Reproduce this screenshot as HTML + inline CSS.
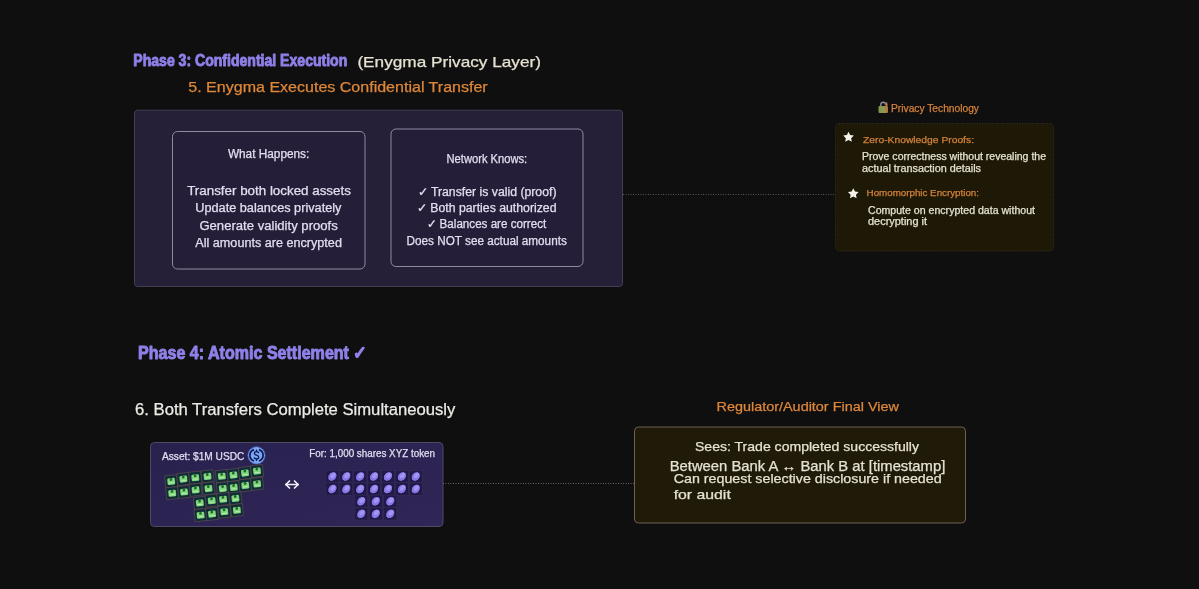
<!DOCTYPE html>
<html><head><meta charset="utf-8"><style>
html,body{margin:0;padding:0;background:#0f0f0f;width:1199px;height:589px;overflow:hidden;}
svg{display:block;will-change:transform;}
text{font-family:"Liberation Sans",sans-serif;}
</style></head><body>
<svg width="1199" height="589" viewBox="0 0 1199 589"><text x="133.3" y="66.0" font-size="16" fill="#8e80e8" font-weight="bold" font-family="Liberation Sans" textLength="214.0" lengthAdjust="spacingAndGlyphs" stroke="#8e80e8" stroke-width="0.9" stroke-linejoin="round">Phase 3: Confidential Execution</text>
<text x="357.4" y="67.0" font-size="15" fill="#e6e2d2" font-weight="normal" font-family="Liberation Sans" textLength="183.6" lengthAdjust="spacingAndGlyphs" stroke="#e6e2d2" stroke-width="0.25" stroke-linejoin="round">(Enygma Privacy Layer)</text>
<text x="188.3" y="92.0" font-size="14" fill="#dd873a" font-weight="normal" font-family="Liberation Sans" textLength="299.4" lengthAdjust="spacingAndGlyphs" stroke="#dd873a" stroke-width="0.25" stroke-linejoin="round">5. Enygma Executes Confidential Transfer</text>
<rect x="134.5" y="110.2" width="488" height="176.3" rx="3" fill="#261f38" stroke="#433f52" stroke-width="1" />
<rect x="172.5" y="131.5" width="192.5" height="137.5" rx="5" fill="#251e38" stroke="#8e8aa4" stroke-width="1" />
<rect x="391" y="129" width="192" height="137.5" rx="5" fill="#251e38" stroke="#8e8aa4" stroke-width="1" />
<text x="227.9" y="157.9" font-size="12" fill="#e2def0" font-weight="normal" font-family="Liberation Sans" textLength="81.4" lengthAdjust="spacingAndGlyphs" stroke="#e2def0" stroke-width="0.25" stroke-linejoin="round">What Happens:</text>
<text x="187.2" y="194.7" font-size="12" fill="#e2def0" font-weight="normal" font-family="Liberation Sans" textLength="163.7" lengthAdjust="spacingAndGlyphs" stroke="#e2def0" stroke-width="0.25" stroke-linejoin="round">Transfer both locked assets</text>
<text x="195.3" y="212.3" font-size="12" fill="#e2def0" font-weight="normal" font-family="Liberation Sans" textLength="146.1" lengthAdjust="spacingAndGlyphs" stroke="#e2def0" stroke-width="0.25" stroke-linejoin="round">Update balances privately</text>
<text x="199.4" y="230.0" font-size="12" fill="#e2def0" font-weight="normal" font-family="Liberation Sans" textLength="138.4" lengthAdjust="spacingAndGlyphs" stroke="#e2def0" stroke-width="0.25" stroke-linejoin="round">Generate validity proofs</text>
<text x="195.3" y="246.9" font-size="12" fill="#e2def0" font-weight="normal" font-family="Liberation Sans" textLength="146.6" lengthAdjust="spacingAndGlyphs" stroke="#e2def0" stroke-width="0.25" stroke-linejoin="round">All amounts are encrypted</text>
<text x="446.5" y="163.4" font-size="12" fill="#e2def0" font-weight="normal" font-family="Liberation Sans" textLength="80.7" lengthAdjust="spacingAndGlyphs" stroke="#e2def0" stroke-width="0.25" stroke-linejoin="round">Network Knows:</text>
<text x="417.5" y="196.0" font-size="12" fill="#e2def0" font-weight="normal" font-family="Liberation Sans" textLength="139.0" lengthAdjust="spacingAndGlyphs" stroke="#e2def0" stroke-width="0.25" stroke-linejoin="round">✓ Transfer is valid (proof)</text>
<text x="416.7" y="211.8" font-size="12" fill="#e2def0" font-weight="normal" font-family="Liberation Sans" textLength="139.8" lengthAdjust="spacingAndGlyphs" stroke="#e2def0" stroke-width="0.25" stroke-linejoin="round">✓ Both parties authorized</text>
<text x="426.7" y="228.0" font-size="12" fill="#e2def0" font-weight="normal" font-family="Liberation Sans" textLength="119.5" lengthAdjust="spacingAndGlyphs" stroke="#e2def0" stroke-width="0.25" stroke-linejoin="round">✓ Balances are correct</text>
<text x="406.6" y="244.9" font-size="12" fill="#e2def0" font-weight="normal" font-family="Liberation Sans" textLength="160.2" lengthAdjust="spacingAndGlyphs" stroke="#e2def0" stroke-width="0.25" stroke-linejoin="round">Does NOT see actual amounts</text>
<line x1="623" y1="194.5" x2="835" y2="194.5" stroke="#5a5856" stroke-width="1" stroke-dasharray="1 1.5"/>
<rect x="835.5" y="123.5" width="218" height="127.5" rx="4" fill="#1e1906" stroke="#3e3420" stroke-width="1" stroke-dasharray="1 1.5"/>
<defs><linearGradient id="lk" x1="0" y1="0" x2="1" y2="0"><stop offset="0" stop-color="#7e9a48"/><stop offset="0.55" stop-color="#8a9a50"/><stop offset="0.6" stop-color="#b08a50"/><stop offset="1" stop-color="#a07840"/></linearGradient></defs><g><path d="M880.8 106.5 v-1.8 a2.4 2.4 0 0 1 4.8 0" fill="none" stroke="#8c88a4" stroke-width="1.4"/><rect x="878.5" y="106" width="9.5" height="7" rx="1" fill="url(#lk)"/><path d="M884.5 103.5 l2.5 -1.5 l0.8 3 l-1.5 2" fill="#a88048"/></g>
<text x="891.0" y="112.0" font-size="10" fill="#d4803a" font-weight="normal" font-family="Liberation Sans" textLength="88.0" lengthAdjust="spacingAndGlyphs" stroke="#d4803a" stroke-width="0.25" stroke-linejoin="round">Privacy Technology</text>
<polygon points="848.50,131.70 850.15,135.03 853.83,135.57 851.16,138.17 851.79,141.83 848.50,140.10 845.21,141.83 845.84,138.17 843.17,135.57 846.85,135.03" fill="#f4f2ea"/>
<text x="863.0" y="143.0" font-size="9.5" fill="#d4803a" font-weight="normal" font-family="Liberation Sans" textLength="111.0" lengthAdjust="spacingAndGlyphs" stroke="#d4803a" stroke-width="0.25" stroke-linejoin="round">Zero-Knowledge Proofs:</text>
<text x="862.0" y="160.0" font-size="10" fill="#e6e2d2" font-weight="normal" font-family="Liberation Sans" textLength="184.0" lengthAdjust="spacingAndGlyphs" stroke="#e6e2d2" stroke-width="0.25" stroke-linejoin="round">Prove correctness without revealing the</text>
<text x="862.0" y="172.0" font-size="10" fill="#e6e2d2" font-weight="normal" font-family="Liberation Sans" textLength="119.0" lengthAdjust="spacingAndGlyphs" stroke="#e6e2d2" stroke-width="0.25" stroke-linejoin="round">actual transaction details</text>
<polygon points="853.30,188.20 854.95,191.53 858.63,192.07 855.96,194.67 856.59,198.33 853.30,196.60 850.01,198.33 850.64,194.67 847.97,192.07 851.65,191.53" fill="#f4f2ea"/>
<text x="866.6" y="196.0" font-size="9.5" fill="#d4803a" font-weight="normal" font-family="Liberation Sans" textLength="112.4" lengthAdjust="spacingAndGlyphs" stroke="#d4803a" stroke-width="0.25" stroke-linejoin="round">Homomorphic Encryption:</text>
<text x="868.0" y="214.0" font-size="10" fill="#e6e2d2" font-weight="normal" font-family="Liberation Sans" textLength="167.0" lengthAdjust="spacingAndGlyphs" stroke="#e6e2d2" stroke-width="0.25" stroke-linejoin="round">Compute on encrypted data without</text>
<text x="868.0" y="225.0" font-size="10" fill="#e6e2d2" font-weight="normal" font-family="Liberation Sans" textLength="59.0" lengthAdjust="spacingAndGlyphs" stroke="#e6e2d2" stroke-width="0.25" stroke-linejoin="round">decrypting it</text>
<text x="138.1" y="359.2" font-size="17.5" fill="#8e80e8" font-weight="bold" font-family="Liberation Sans" textLength="229.1" lengthAdjust="spacingAndGlyphs" stroke="#8e80e8" stroke-width="0.9" stroke-linejoin="round">Phase 4: Atomic Settlement ✓</text>
<text x="135.0" y="415.3" font-size="16" fill="#ecebe6" font-weight="normal" font-family="Liberation Sans" textLength="320.4" lengthAdjust="spacingAndGlyphs" stroke="#ecebe6" stroke-width="0.25" stroke-linejoin="round">6. Both Transfers Complete Simultaneously</text>
<defs><linearGradient id="ag" x1="0" y1="0" x2="1" y2="1"><stop offset="0" stop-color="#28214e"/><stop offset="1" stop-color="#302657"/></linearGradient></defs>
<rect x="150.5" y="442.5" width="292.5" height="84" rx="4" fill="url(#ag)" stroke="#4e4966" stroke-width="1" />
<text x="162.0" y="459.6" font-size="10.5" fill="#e2def0" font-weight="normal" font-family="Liberation Sans" textLength="82.4" lengthAdjust="spacingAndGlyphs" stroke="#e2def0" stroke-width="0.25" stroke-linejoin="round">Asset: $1M USDC</text>
<circle cx="256.5" cy="455.3" r="8.6" fill="#7ea4f4" stroke="#4a70d0" stroke-width="0.6"/><path d="M254.0 449.6 A6.0 6.0 0 0 0 254.0 461.0" fill="none" stroke="#0c1c50" stroke-width="1.7"/><path d="M259.0 449.6 A6.0 6.0 0 0 1 259.0 461.0" fill="none" stroke="#0c1c50" stroke-width="1.7"/><path d="M258.6 452.6 Q258 451.6 256.5 451.6 Q254.4 451.6 254.4 453.3 Q254.4 454.8 256.5 455.2 Q258.7 455.7 258.7 457.3 Q258.7 459.0 256.5 459.0 Q254.9 459.0 254.3 457.9 M256.5 450.2 V451.6 M256.5 459.0 V460.4" fill="none" stroke="#0c1c50" stroke-width="1.3" stroke-linecap="round"/>
<g transform="rotate(-6 171.2 481.3)"><rect x="165.2" y="475.3" width="12" height="12" fill="#0f2c38" stroke="#5e4a48" stroke-width="0.7"/><rect x="167.4" y="478.1" width="7.6" height="6.6" rx="1.2" fill="#7fd67c"/><circle cx="171.2" cy="479.5" r="1.4" fill="#1f6a2a"/><rect x="168.6" y="482.5" width="5.2" height="0.8" fill="#c4f0b8"/></g>
<g transform="rotate(-6 183.4 479.0)"><rect x="177.4" y="473.0" width="12" height="12" fill="#0f2c38" stroke="#5e4a48" stroke-width="0.7"/><rect x="179.6" y="475.8" width="7.6" height="6.6" rx="1.2" fill="#7fd67c"/><circle cx="183.4" cy="477.2" r="1.4" fill="#1f6a2a"/><rect x="180.8" y="480.2" width="5.2" height="0.8" fill="#c4f0b8"/></g>
<g transform="rotate(-6 195.3 477.6)"><rect x="189.3" y="471.6" width="12" height="12" fill="#0f2c38" stroke="#5e4a48" stroke-width="0.7"/><rect x="191.5" y="474.4" width="7.6" height="6.6" rx="1.2" fill="#7fd67c"/><circle cx="195.3" cy="475.8" r="1.4" fill="#1f6a2a"/><rect x="192.7" y="478.8" width="5.2" height="0.8" fill="#c4f0b8"/></g>
<g transform="rotate(-6 207.5 476.3)"><rect x="201.5" y="470.3" width="12" height="12" fill="#0f2c38" stroke="#5e4a48" stroke-width="0.7"/><rect x="203.7" y="473.1" width="7.6" height="6.6" rx="1.2" fill="#7fd67c"/><circle cx="207.5" cy="474.5" r="1.4" fill="#1f6a2a"/><rect x="204.9" y="477.5" width="5.2" height="0.8" fill="#c4f0b8"/></g>
<g transform="rotate(-6 221.8 476.1)"><rect x="215.8" y="470.1" width="12" height="12" fill="#0f2c38" stroke="#5e4a48" stroke-width="0.7"/><rect x="218.0" y="472.9" width="7.6" height="6.6" rx="1.2" fill="#7fd67c"/><circle cx="221.8" cy="474.3" r="1.4" fill="#1f6a2a"/><rect x="219.2" y="477.3" width="5.2" height="0.8" fill="#c4f0b8"/></g>
<g transform="rotate(-6 233.5 475.0)"><rect x="227.5" y="469.0" width="12" height="12" fill="#0f2c38" stroke="#5e4a48" stroke-width="0.7"/><rect x="229.7" y="471.8" width="7.6" height="6.6" rx="1.2" fill="#7fd67c"/><circle cx="233.5" cy="473.2" r="1.4" fill="#1f6a2a"/><rect x="230.9" y="476.2" width="5.2" height="0.8" fill="#c4f0b8"/></g>
<g transform="rotate(-6 245.0 473.0)"><rect x="239.0" y="467.0" width="12" height="12" fill="#0f2c38" stroke="#5e4a48" stroke-width="0.7"/><rect x="241.2" y="469.8" width="7.6" height="6.6" rx="1.2" fill="#7fd67c"/><circle cx="245.0" cy="471.2" r="1.4" fill="#1f6a2a"/><rect x="242.4" y="474.2" width="5.2" height="0.8" fill="#c4f0b8"/></g>
<g transform="rotate(-6 257.0 471.0)"><rect x="251.0" y="465.0" width="12" height="12" fill="#0f2c38" stroke="#5e4a48" stroke-width="0.7"/><rect x="253.2" y="467.8" width="7.6" height="6.6" rx="1.2" fill="#7fd67c"/><circle cx="257.0" cy="469.2" r="1.4" fill="#1f6a2a"/><rect x="254.4" y="472.2" width="5.2" height="0.8" fill="#c4f0b8"/></g>
<g transform="rotate(-6 172.2 493.2)"><rect x="166.2" y="487.2" width="12" height="12" fill="#0f2c38" stroke="#5e4a48" stroke-width="0.7"/><rect x="168.4" y="490.0" width="7.6" height="6.6" rx="1.2" fill="#7fd67c"/><circle cx="172.2" cy="491.4" r="1.4" fill="#1f6a2a"/><rect x="169.6" y="494.4" width="5.2" height="0.8" fill="#c4f0b8"/></g>
<g transform="rotate(-6 184.1 491.9)"><rect x="178.1" y="485.9" width="12" height="12" fill="#0f2c38" stroke="#5e4a48" stroke-width="0.7"/><rect x="180.3" y="488.7" width="7.6" height="6.6" rx="1.2" fill="#7fd67c"/><circle cx="184.1" cy="490.1" r="1.4" fill="#1f6a2a"/><rect x="181.5" y="493.1" width="5.2" height="0.8" fill="#c4f0b8"/></g>
<g transform="rotate(-6 195.6 489.8)"><rect x="189.6" y="483.8" width="12" height="12" fill="#0f2c38" stroke="#5e4a48" stroke-width="0.7"/><rect x="191.8" y="486.6" width="7.6" height="6.6" rx="1.2" fill="#7fd67c"/><circle cx="195.6" cy="488.0" r="1.4" fill="#1f6a2a"/><rect x="193.0" y="491.0" width="5.2" height="0.8" fill="#c4f0b8"/></g>
<g transform="rotate(-6 208.5 488.5)"><rect x="202.5" y="482.5" width="12" height="12" fill="#0f2c38" stroke="#5e4a48" stroke-width="0.7"/><rect x="204.7" y="485.3" width="7.6" height="6.6" rx="1.2" fill="#7fd67c"/><circle cx="208.5" cy="486.7" r="1.4" fill="#1f6a2a"/><rect x="205.9" y="489.7" width="5.2" height="0.8" fill="#c4f0b8"/></g>
<g transform="rotate(-6 222.8 488.5)"><rect x="216.8" y="482.5" width="12" height="12" fill="#0f2c38" stroke="#5e4a48" stroke-width="0.7"/><rect x="219.0" y="485.3" width="7.6" height="6.6" rx="1.2" fill="#7fd67c"/><circle cx="222.8" cy="486.7" r="1.4" fill="#1f6a2a"/><rect x="220.2" y="489.7" width="5.2" height="0.8" fill="#c4f0b8"/></g>
<g transform="rotate(-6 233.8 487.3)"><rect x="227.8" y="481.3" width="12" height="12" fill="#0f2c38" stroke="#5e4a48" stroke-width="0.7"/><rect x="230.0" y="484.1" width="7.6" height="6.6" rx="1.2" fill="#7fd67c"/><circle cx="233.8" cy="485.5" r="1.4" fill="#1f6a2a"/><rect x="231.2" y="488.5" width="5.2" height="0.8" fill="#c4f0b8"/></g>
<g transform="rotate(-6 245.3 485.3)"><rect x="239.3" y="479.3" width="12" height="12" fill="#0f2c38" stroke="#5e4a48" stroke-width="0.7"/><rect x="241.5" y="482.1" width="7.6" height="6.6" rx="1.2" fill="#7fd67c"/><circle cx="245.3" cy="483.5" r="1.4" fill="#1f6a2a"/><rect x="242.7" y="486.5" width="5.2" height="0.8" fill="#c4f0b8"/></g>
<g transform="rotate(-6 257.1 483.8)"><rect x="251.1" y="477.8" width="12" height="12" fill="#0f2c38" stroke="#5e4a48" stroke-width="0.7"/><rect x="253.3" y="480.6" width="7.6" height="6.6" rx="1.2" fill="#7fd67c"/><circle cx="257.1" cy="482.0" r="1.4" fill="#1f6a2a"/><rect x="254.5" y="485.0" width="5.2" height="0.8" fill="#c4f0b8"/></g>
<g transform="rotate(-6 199.8 502.9)"><rect x="193.8" y="496.9" width="12" height="12" fill="#0f2c38" stroke="#5e4a48" stroke-width="0.7"/><rect x="196.0" y="499.7" width="7.6" height="6.6" rx="1.2" fill="#7fd67c"/><circle cx="199.8" cy="501.1" r="1.4" fill="#1f6a2a"/><rect x="197.2" y="504.1" width="5.2" height="0.8" fill="#c4f0b8"/></g>
<g transform="rotate(-6 211.7 500.6)"><rect x="205.7" y="494.6" width="12" height="12" fill="#0f2c38" stroke="#5e4a48" stroke-width="0.7"/><rect x="207.9" y="497.4" width="7.6" height="6.6" rx="1.2" fill="#7fd67c"/><circle cx="211.7" cy="498.8" r="1.4" fill="#1f6a2a"/><rect x="209.1" y="501.8" width="5.2" height="0.8" fill="#c4f0b8"/></g>
<g transform="rotate(-6 223.1 499.1)"><rect x="217.1" y="493.1" width="12" height="12" fill="#0f2c38" stroke="#5e4a48" stroke-width="0.7"/><rect x="219.3" y="495.9" width="7.6" height="6.6" rx="1.2" fill="#7fd67c"/><circle cx="223.1" cy="497.3" r="1.4" fill="#1f6a2a"/><rect x="220.5" y="500.3" width="5.2" height="0.8" fill="#c4f0b8"/></g>
<g transform="rotate(-6 235.4 498.3)"><rect x="229.4" y="492.3" width="12" height="12" fill="#0f2c38" stroke="#5e4a48" stroke-width="0.7"/><rect x="231.6" y="495.1" width="7.6" height="6.6" rx="1.2" fill="#7fd67c"/><circle cx="235.4" cy="496.5" r="1.4" fill="#1f6a2a"/><rect x="232.8" y="499.5" width="5.2" height="0.8" fill="#c4f0b8"/></g>
<g transform="rotate(-6 200.6 515.1)"><rect x="194.6" y="509.1" width="12" height="12" fill="#0f2c38" stroke="#5e4a48" stroke-width="0.7"/><rect x="196.8" y="511.9" width="7.6" height="6.6" rx="1.2" fill="#7fd67c"/><circle cx="200.6" cy="513.3" r="1.4" fill="#1f6a2a"/><rect x="198.0" y="516.3" width="5.2" height="0.8" fill="#c4f0b8"/></g>
<g transform="rotate(-6 212.0 514.0)"><rect x="206.0" y="508.0" width="12" height="12" fill="#0f2c38" stroke="#5e4a48" stroke-width="0.7"/><rect x="208.2" y="510.8" width="7.6" height="6.6" rx="1.2" fill="#7fd67c"/><circle cx="212.0" cy="512.2" r="1.4" fill="#1f6a2a"/><rect x="209.4" y="515.2" width="5.2" height="0.8" fill="#c4f0b8"/></g>
<g transform="rotate(-6 224.3 511.7)"><rect x="218.3" y="505.7" width="12" height="12" fill="#0f2c38" stroke="#5e4a48" stroke-width="0.7"/><rect x="220.5" y="508.5" width="7.6" height="6.6" rx="1.2" fill="#7fd67c"/><circle cx="224.3" cy="509.9" r="1.4" fill="#1f6a2a"/><rect x="221.7" y="512.9" width="5.2" height="0.8" fill="#c4f0b8"/></g>
<g transform="rotate(-6 236.9 510.2)"><rect x="230.9" y="504.2" width="12" height="12" fill="#0f2c38" stroke="#5e4a48" stroke-width="0.7"/><rect x="233.1" y="507.0" width="7.6" height="6.6" rx="1.2" fill="#7fd67c"/><circle cx="236.9" cy="508.4" r="1.4" fill="#1f6a2a"/><rect x="234.3" y="511.4" width="5.2" height="0.8" fill="#c4f0b8"/></g>
<g fill="none" stroke="#f4f2fa" stroke-width="1.7" stroke-linecap="round" stroke-linejoin="round"><path d="M286 484.5 H298"/><path d="M289.5 481 L285.8 484.5 L289.5 488"/><path d="M294.5 481 L298.2 484.5 L294.5 488"/></g>
<text x="309.3" y="457.0" font-size="10.5" fill="#e2def0" font-weight="normal" font-family="Liberation Sans" textLength="125.7" lengthAdjust="spacingAndGlyphs" stroke="#e2def0" stroke-width="0.25" stroke-linejoin="round">For: 1,000 shares XYZ token</text>
<rect x="325.9" y="470.3" width="13" height="12.4" fill="#231a47" stroke="#362d5c" stroke-width="0.6"/><ellipse cx="332.4" cy="476.5" rx="5.3" ry="4.2" transform="rotate(-50 332.4 476.5)" fill="#8577e6" stroke="#140e36" stroke-width="0.9"/><ellipse cx="333.0" cy="475.6" rx="3" ry="2" transform="rotate(-50 333.0 475.6)" fill="#a294f2"/>
<rect x="339.8" y="470.3" width="13" height="12.4" fill="#231a47" stroke="#362d5c" stroke-width="0.6"/><ellipse cx="346.3" cy="476.5" rx="5.3" ry="4.2" transform="rotate(-50 346.3 476.5)" fill="#8577e6" stroke="#140e36" stroke-width="0.9"/><ellipse cx="346.9" cy="475.6" rx="3" ry="2" transform="rotate(-50 346.9 475.6)" fill="#a294f2"/>
<rect x="353.7" y="470.3" width="13" height="12.4" fill="#231a47" stroke="#362d5c" stroke-width="0.6"/><ellipse cx="360.2" cy="476.5" rx="5.3" ry="4.2" transform="rotate(-50 360.2 476.5)" fill="#8577e6" stroke="#140e36" stroke-width="0.9"/><ellipse cx="360.8" cy="475.6" rx="3" ry="2" transform="rotate(-50 360.8 475.6)" fill="#a294f2"/>
<rect x="367.6" y="470.3" width="13" height="12.4" fill="#231a47" stroke="#362d5c" stroke-width="0.6"/><ellipse cx="374.1" cy="476.5" rx="5.3" ry="4.2" transform="rotate(-50 374.1 476.5)" fill="#8577e6" stroke="#140e36" stroke-width="0.9"/><ellipse cx="374.7" cy="475.6" rx="3" ry="2" transform="rotate(-50 374.7 475.6)" fill="#a294f2"/>
<rect x="381.5" y="470.3" width="13" height="12.4" fill="#231a47" stroke="#362d5c" stroke-width="0.6"/><ellipse cx="388.0" cy="476.5" rx="5.3" ry="4.2" transform="rotate(-50 388.0 476.5)" fill="#8577e6" stroke="#140e36" stroke-width="0.9"/><ellipse cx="388.6" cy="475.6" rx="3" ry="2" transform="rotate(-50 388.6 475.6)" fill="#a294f2"/>
<rect x="395.4" y="470.3" width="13" height="12.4" fill="#231a47" stroke="#362d5c" stroke-width="0.6"/><ellipse cx="401.9" cy="476.5" rx="5.3" ry="4.2" transform="rotate(-50 401.9 476.5)" fill="#8577e6" stroke="#140e36" stroke-width="0.9"/><ellipse cx="402.5" cy="475.6" rx="3" ry="2" transform="rotate(-50 402.5 475.6)" fill="#a294f2"/>
<rect x="409.3" y="470.3" width="13" height="12.4" fill="#231a47" stroke="#362d5c" stroke-width="0.6"/><ellipse cx="415.8" cy="476.5" rx="5.3" ry="4.2" transform="rotate(-50 415.8 476.5)" fill="#8577e6" stroke="#140e36" stroke-width="0.9"/><ellipse cx="416.4" cy="475.6" rx="3" ry="2" transform="rotate(-50 416.4 475.6)" fill="#a294f2"/>
<rect x="325.9" y="482.8" width="13" height="12.4" fill="#231a47" stroke="#362d5c" stroke-width="0.6"/><ellipse cx="332.4" cy="489.0" rx="5.3" ry="4.2" transform="rotate(-50 332.4 489.0)" fill="#8577e6" stroke="#140e36" stroke-width="0.9"/><ellipse cx="333.0" cy="488.1" rx="3" ry="2" transform="rotate(-50 333.0 488.1)" fill="#a294f2"/>
<rect x="339.8" y="482.8" width="13" height="12.4" fill="#231a47" stroke="#362d5c" stroke-width="0.6"/><ellipse cx="346.3" cy="489.0" rx="5.3" ry="4.2" transform="rotate(-50 346.3 489.0)" fill="#8577e6" stroke="#140e36" stroke-width="0.9"/><ellipse cx="346.9" cy="488.1" rx="3" ry="2" transform="rotate(-50 346.9 488.1)" fill="#a294f2"/>
<rect x="353.7" y="482.8" width="13" height="12.4" fill="#231a47" stroke="#362d5c" stroke-width="0.6"/><ellipse cx="360.2" cy="489.0" rx="5.3" ry="4.2" transform="rotate(-50 360.2 489.0)" fill="#8577e6" stroke="#140e36" stroke-width="0.9"/><ellipse cx="360.8" cy="488.1" rx="3" ry="2" transform="rotate(-50 360.8 488.1)" fill="#a294f2"/>
<rect x="367.6" y="482.8" width="13" height="12.4" fill="#231a47" stroke="#362d5c" stroke-width="0.6"/><ellipse cx="374.1" cy="489.0" rx="5.3" ry="4.2" transform="rotate(-50 374.1 489.0)" fill="#8577e6" stroke="#140e36" stroke-width="0.9"/><ellipse cx="374.7" cy="488.1" rx="3" ry="2" transform="rotate(-50 374.7 488.1)" fill="#a294f2"/>
<rect x="381.5" y="482.8" width="13" height="12.4" fill="#231a47" stroke="#362d5c" stroke-width="0.6"/><ellipse cx="388.0" cy="489.0" rx="5.3" ry="4.2" transform="rotate(-50 388.0 489.0)" fill="#8577e6" stroke="#140e36" stroke-width="0.9"/><ellipse cx="388.6" cy="488.1" rx="3" ry="2" transform="rotate(-50 388.6 488.1)" fill="#a294f2"/>
<rect x="395.4" y="482.8" width="13" height="12.4" fill="#231a47" stroke="#362d5c" stroke-width="0.6"/><ellipse cx="401.9" cy="489.0" rx="5.3" ry="4.2" transform="rotate(-50 401.9 489.0)" fill="#8577e6" stroke="#140e36" stroke-width="0.9"/><ellipse cx="402.5" cy="488.1" rx="3" ry="2" transform="rotate(-50 402.5 488.1)" fill="#a294f2"/>
<rect x="409.3" y="482.8" width="13" height="12.4" fill="#231a47" stroke="#362d5c" stroke-width="0.6"/><ellipse cx="415.8" cy="489.0" rx="5.3" ry="4.2" transform="rotate(-50 415.8 489.0)" fill="#8577e6" stroke="#140e36" stroke-width="0.9"/><ellipse cx="416.4" cy="488.1" rx="3" ry="2" transform="rotate(-50 416.4 488.1)" fill="#a294f2"/>
<rect x="354.8" y="495.1" width="13" height="12.4" fill="#231a47" stroke="#362d5c" stroke-width="0.6"/><ellipse cx="361.3" cy="501.3" rx="5.3" ry="4.2" transform="rotate(-50 361.3 501.3)" fill="#8577e6" stroke="#140e36" stroke-width="0.9"/><ellipse cx="361.9" cy="500.4" rx="3" ry="2" transform="rotate(-50 361.9 500.4)" fill="#a294f2"/>
<rect x="369.3" y="495.1" width="13" height="12.4" fill="#231a47" stroke="#362d5c" stroke-width="0.6"/><ellipse cx="375.8" cy="501.3" rx="5.3" ry="4.2" transform="rotate(-50 375.8 501.3)" fill="#8577e6" stroke="#140e36" stroke-width="0.9"/><ellipse cx="376.4" cy="500.4" rx="3" ry="2" transform="rotate(-50 376.4 500.4)" fill="#a294f2"/>
<rect x="383.8" y="495.1" width="13" height="12.4" fill="#231a47" stroke="#362d5c" stroke-width="0.6"/><ellipse cx="390.3" cy="501.3" rx="5.3" ry="4.2" transform="rotate(-50 390.3 501.3)" fill="#8577e6" stroke="#140e36" stroke-width="0.9"/><ellipse cx="390.9" cy="500.4" rx="3" ry="2" transform="rotate(-50 390.9 500.4)" fill="#a294f2"/>
<rect x="354.8" y="507.6" width="13" height="12.4" fill="#231a47" stroke="#362d5c" stroke-width="0.6"/><ellipse cx="361.3" cy="513.8" rx="5.3" ry="4.2" transform="rotate(-50 361.3 513.8)" fill="#8577e6" stroke="#140e36" stroke-width="0.9"/><ellipse cx="361.9" cy="512.9" rx="3" ry="2" transform="rotate(-50 361.9 512.9)" fill="#a294f2"/>
<rect x="369.3" y="507.6" width="13" height="12.4" fill="#231a47" stroke="#362d5c" stroke-width="0.6"/><ellipse cx="375.8" cy="513.8" rx="5.3" ry="4.2" transform="rotate(-50 375.8 513.8)" fill="#8577e6" stroke="#140e36" stroke-width="0.9"/><ellipse cx="376.4" cy="512.9" rx="3" ry="2" transform="rotate(-50 376.4 512.9)" fill="#a294f2"/>
<rect x="383.8" y="507.6" width="13" height="12.4" fill="#231a47" stroke="#362d5c" stroke-width="0.6"/><ellipse cx="390.3" cy="513.8" rx="5.3" ry="4.2" transform="rotate(-50 390.3 513.8)" fill="#8577e6" stroke="#140e36" stroke-width="0.9"/><ellipse cx="390.9" cy="512.9" rx="3" ry="2" transform="rotate(-50 390.9 512.9)" fill="#a294f2"/>
<line x1="443" y1="483.5" x2="634" y2="483.5" stroke="#6e685c" stroke-width="1" stroke-dasharray="1 1.5"/>
<text x="716.5" y="411.4" font-size="13" fill="#dd873a" font-weight="normal" font-family="Liberation Sans" textLength="182.4" lengthAdjust="spacingAndGlyphs" stroke="#dd873a" stroke-width="0.25" stroke-linejoin="round">Regulator/Auditor Final View</text>
<rect x="634.5" y="427" width="331" height="96" rx="4" fill="#201a09" stroke="#6a6252" stroke-width="1" />
<text x="695.0" y="451.3" font-size="13" fill="#e6e2d2" font-weight="normal" font-family="Liberation Sans" textLength="224.0" lengthAdjust="spacingAndGlyphs" stroke="#e6e2d2" stroke-width="0.25" stroke-linejoin="round">Sees: Trade completed successfully</text>
<text x="669.7" y="470.8" font-size="14" fill="#e6e2d2" font-weight="normal" font-family="Liberation Sans" textLength="275.6" lengthAdjust="spacingAndGlyphs" stroke="#e6e2d2" stroke-width="0.25" stroke-linejoin="round">Between Bank A ↔ Bank B at [timestamp]</text>
<text x="673.7" y="482.7" font-size="13" fill="#e6e2d2" font-weight="normal" font-family="Liberation Sans" textLength="268.0" lengthAdjust="spacingAndGlyphs" stroke="#e6e2d2" stroke-width="0.25" stroke-linejoin="round">Can request selective disclosure if needed</text>
<text x="673.7" y="499.4" font-size="13" fill="#e6e2d2" font-weight="normal" font-family="Liberation Sans" textLength="57.1" lengthAdjust="spacingAndGlyphs" stroke="#e6e2d2" stroke-width="0.25" stroke-linejoin="round">for audit</text></svg>
</body></html>
